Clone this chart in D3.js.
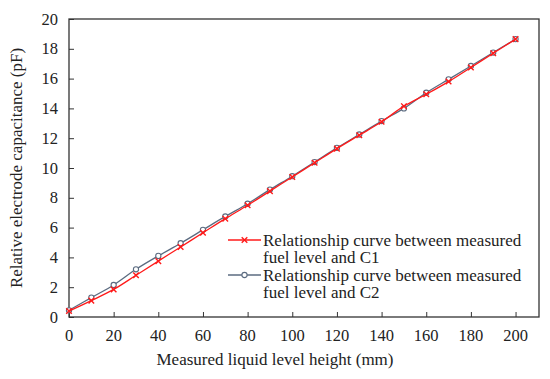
<!DOCTYPE html>
<html>
<head>
<meta charset="utf-8">
<script src="https://cdn.jsdelivr.net/npm/d3@7"></script>
<style>
  body { margin: 0; background: #fff; }
</style>
</head>
<body>
<svg id="chart"></svg>
<script>
const width = 550;
const height = 379;
const margin = { top: 19, right: 11, bottom: 62, left: 69 };

const heights = [0, 10, 20, 30, 40, 50, 60, 70, 80, 90, 100, 110, 120, 130, 140, 150, 160, 170, 180, 190, 200];
const c1Values = [0.4, 1.1, 1.85, 2.8, 3.75, 4.7, 5.65, 6.6, 7.5, 8.45, 9.4, 10.35, 11.3, 12.2, 13.1, 14.15, 14.95, 15.8, 16.75, 17.7, 18.65];
const c2Values = [0.45, 1.3, 2.15, 3.2, 4.1, 4.95, 5.85, 6.75, 7.6, 8.55, 9.45, 10.4, 11.35, 12.25, 13.15, 14.0, 15.05, 15.95, 16.85, 17.75, 18.65];
const xTicks = [0, 20, 40, 60, 80, 100, 120, 140, 160, 180, 200];
const yTicks = [0, 2, 4, 6, 8, 10, 12, 14, 16, 18, 20];
const seriesNames = [
  ["Relationship curve between measured", "fuel level and C1"],
  ["Relationship curve between measured", "fuel level and C2"]
];

const svg = d3.select("#chart").attr("width", width).attr("height", height)
  .attr("font-family", "'Liberation Serif', 'Times New Roman', serif");

const x = d3.scaleLinear().domain([0, 210.5]).range([margin.left, width - margin.right]);
const y = d3.scaleLinear().domain([0, 20]).range([height - margin.bottom, margin.top]);

// frame
svg.append("rect")
  .attr("x", margin.left).attr("y", margin.top)
  .attr("width", width - margin.left - margin.right)
  .attr("height", height - margin.bottom - margin.top)
  .attr("fill", "none").attr("stroke", "#333").attr("stroke-width", 1.3);

const xAxis = svg.append("g")
  .attr("transform", `translate(0,${height - margin.bottom})`)
  .call(d3.axisTop(x).tickValues(xTicks).tickSize(5).tickFormat(""));
xAxis.select(".domain").remove();
xAxis.selectAll("line").attr("stroke", "#333");

svg.selectAll(".xlabel")
  .data(xTicks).enter().append("text")
  .attr("class", "xlabel")
  .attr("x", (d) => x(d)).attr("y", height - margin.bottom + 24)
  .attr("text-anchor", "middle").attr("font-size", 16.5).attr("fill", "#222")
  .text((d) => d);

const yAxis = svg.append("g")
  .attr("transform", `translate(${margin.left},0)`)
  .call(d3.axisRight(y).tickValues(yTicks).tickSize(5).tickFormat(""));
yAxis.select(".domain").remove();
yAxis.selectAll("line").attr("stroke", "#333");

svg.selectAll(".ylabel")
  .data(yTicks).enter().append("text")
  .attr("class", "ylabel")
  .attr("x", margin.left - 11).attr("y", (d) => y(d) + 5.5)
  .attr("text-anchor", "end").attr("font-size", 16.5).attr("fill", "#222")
  .text((d) => d);

svg.append("text")
  .attr("x", 275).attr("y", height - 14)
  .attr("text-anchor", "middle").attr("font-size", 17).attr("fill", "#222")
  .text("Measured liquid level height (mm)");

svg.append("text")
  .attr("transform", `translate(22,${(margin.top + height - margin.bottom) / 2}) rotate(-90)`)
  .attr("text-anchor", "middle").attr("font-size", 17).attr("fill", "#222")
  .text("Relative electrode capacitance (pF)");

const line = d3.line().x((d) => x(d[0])).y((d) => y(d[1])).curve(d3.curveCatmullRom);

const c2Data = heights.map((h, i) => [h, c2Values[i]]);
const c1Data = heights.map((h, i) => [h, c1Values[i]]);

svg.append("path").datum(c2Data)
  .attr("d", line).attr("fill", "none").attr("stroke", "#5b6b80").attr("stroke-width", 1.3);
svg.selectAll(".c2pt").data(c2Data).enter().append("circle")
  .attr("class", "c2pt")
  .attr("cx", (d) => x(d[0])).attr("cy", (d) => y(d[1])).attr("r", 2.6)
  .attr("fill", "#fff").attr("stroke", "#5b6b80").attr("stroke-width", 1.1);

svg.append("path").datum(c1Data)
  .attr("d", line).attr("fill", "none").attr("stroke", "#ff1a1a").attr("stroke-width", 1.3);
const cross = d3.symbol().type(d3.symbolTimes).size(22);
svg.selectAll(".c1pt").data(c1Data).enter().append("path")
  .attr("class", "c1pt")
  .attr("transform", (d) => `translate(${x(d[0])},${y(d[1])})`)
  .attr("d", cross).attr("fill", "none").attr("stroke", "#ff1a1a").attr("stroke-width", 1.4);

// legend
const legend = svg.append("g").attr("transform", "translate(228,240)");
const legendColors = ["#ff1a1a", "#5b6b80"];
seriesNames.forEach((lines, i) => {
  const g = legend.append("g").attr("transform", `translate(0,${i * 35})`);
  g.append("line").attr("x1", 0).attr("x2", 33).attr("y1", 0).attr("y2", 0)
    .attr("stroke", legendColors[i]).attr("stroke-width", 1.3);
  if (i === 0) {
    g.append("path").attr("transform", "translate(16.5,0)").attr("d", cross)
      .attr("fill", "none").attr("stroke", legendColors[i]).attr("stroke-width", 1.4);
  } else {
    g.append("circle").attr("cx", 16.5).attr("cy", 0).attr("r", 2.6)
      .attr("fill", "#fff").attr("stroke", legendColors[i]).attr("stroke-width", 1.1);
  }
  lines.forEach((t, j) => {
    g.append("text").attr("x", 35).attr("y", 5.5 + j * 17.5)
      .attr("font-size", 17).attr("fill", "#222").text(t);
  });
});
</script>
</body>
</html>
